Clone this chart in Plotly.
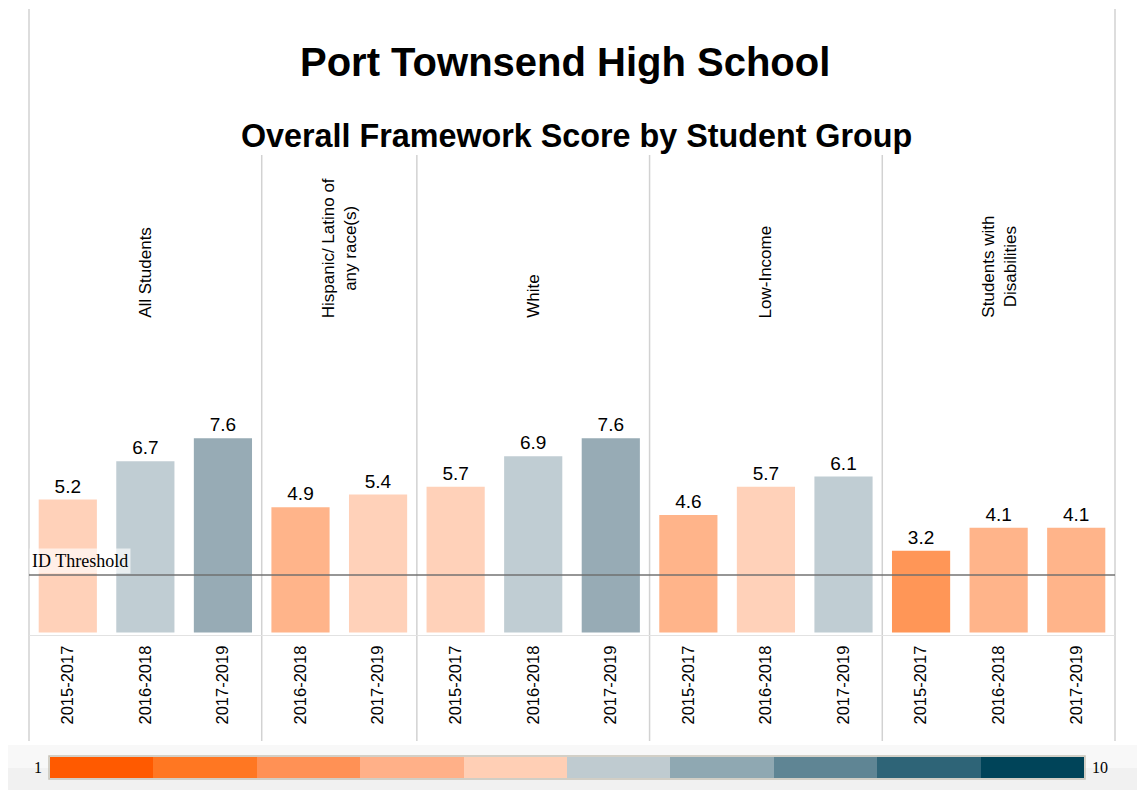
import plotly.graph_objects as go

# page body has an 8px margin: figure occupies viewport pixels 8..1145 / 8..790
OFF = 8
W, H = 1145 - OFF, 790 - OFF

# ---------------- data ----------------
groups = ["All Students", "Hispanic/ Latino of<br>any race(s)", "White",
          "Low-Income", "Students with<br>Disabilities"]
periods_all = ["2015-2017", "2016-2018", "2017-2019"]
periods_hisp = ["2016-2018", "2017-2019"]
group_periods = [periods_all, periods_hisp, periods_all, periods_all, periods_all]
scores_all = [5.2, 6.7, 7.6]
scores_hisp = [4.9, 5.4]
scores_white = [5.7, 6.9, 7.6]
scores_low = [4.6, 5.7, 6.1]
scores_swd = [3.2, 4.1, 4.1]
group_scores = [scores_all, scores_hisp, scores_white, scores_low, scores_swd]
threshold = 2.25
threshold_label = "ID Threshold"
scale_levels = list(range(1, 11))
scale_colors = ["#ff5a00", "#ff7722", "#ff9155", "#ffb088", "#ffcfb5",
                "#bfcbd0", "#8fa8b2", "#5f8594", "#2e6477", "#004459"]
bar_colors_by_level = ["#ff6a15", "#ff8035", "#ff9657", "#ffb48a", "#ffd1b9",
                       "#c0cdd3", "#97abb5", "#6b8e9c", "#3f7083", "#1a5466"]

# ---------------- build ----------------
xs, ys, labels, colors = [], [], [], []
group_centers, boundaries = [], [0]
pos = 0
for per, sc in zip(group_periods, group_scores):
    start = pos
    for p, v in zip(per, sc):
        xs.append(pos)
        ys.append(v)
        labels.append(p)
        lvl = min(max(int(v), 1), 10)
        colors.append(bar_colors_by_level[lvl - 1])
        pos += 1
    group_centers.append((start + pos - 1) / 2)
    boundaries.append(pos)
n = pos

SANS = "Liberation Sans, Arial, sans-serif"
SERIF = "Liberation Serif, Times New Roman, serif"


def px(x):
    return max(0.0, (x - OFF) / W)


def py(y):
    return min(1.0, (790 - y) / H)


fig = go.Figure()
fig.add_trace(go.Bar(
    x=xs, y=ys, width=0.75, marker=dict(color=colors, line=dict(width=0)),
    text=[f"{v:.1f}" for v in ys], textposition="outside",
    textfont=dict(family=SANS, size=19, color="#000000"),
    cliponaxis=False, hoverinfo="skip", xaxis="x", yaxis="y"))

dcs = []
for i, c in enumerate(scale_colors):
    dcs.append([i / 10, c])
    dcs.append([(i + 1) / 10, c])
fig.add_trace(go.Heatmap(
    x=scale_levels, y=[0], z=[scale_levels], colorscale=dcs,
    zmin=0.5, zmax=10.5, showscale=False, hoverinfo="skip",
    xaxis="x2", yaxis="y2"))

x0p, x1p = px(29), px(1115)

fig.update_layout(
    width=W, height=H, margin=dict(l=0, r=0, t=0, b=0),
    paper_bgcolor="white", plot_bgcolor="rgba(0,0,0,0)", showlegend=False,
    xaxis=dict(domain=[x0p, x1p], range=[-0.5, n - 0.5], tickmode="array",
               tickvals=xs, ticktext=labels, tickangle=-90,
               tickfont=dict(family=SANS, size=16.5, color="#000000"),
               showgrid=False, zeroline=False, showline=True,
               linecolor="#e2e2e2", linewidth=1, ticks="",
               ticklabelstandoff=3, automargin=False, anchor="y"),
    yaxis=dict(domain=[py(635), py(155)], range=[-0.1, 18.69], visible=False,
               anchor="x"),
    xaxis2=dict(domain=[px(50), px(1084)], range=[0.5, 10.5], visible=False,
                anchor="y2"),
    yaxis2=dict(domain=[py(778), py(757)], range=[-0.5, 0.5], visible=False,
                anchor="x2"),
)

shapes = []
# bottom gray band
shapes.append(dict(type="rect", xref="paper", yref="paper", x0=0, x1=1,
                   y0=py(768), y1=py(745), fillcolor="#f8f8f8",
                   line=dict(width=0), layer="below"))
shapes.append(dict(type="rect", xref="paper", yref="paper", x0=0, x1=1,
                   y0=0, y1=py(768), fillcolor="#f1f1f1",
                   line=dict(width=0), layer="below"))
# separators
for k, b in enumerate(boundaries):
    xp = x0p + (x1p - x0p) * b / n
    top = py(9) if k in (0, len(boundaries) - 1) else py(155)
    shapes.append(dict(type="line", xref="paper", yref="paper", x0=xp, x1=xp,
                       y0=py(741), y1=top, line=dict(color="#d2d2d2", width=1.5),
                       layer="below"))
# threshold line
shapes.append(dict(type="line", xref="paper", yref="y", x0=x0p, x1=x1p,
                   y0=threshold, y1=threshold,
                   line=dict(color="rgba(110,110,110,0.72)", width=2),
                   layer="above"))
# colour scale border
shapes.append(dict(type="rect", xref="paper", yref="paper", x0=px(49), x1=px(1085),
                   y0=py(779), y1=py(756), line=dict(color="#c6c2b6", width=1.5),
                   fillcolor="rgba(0,0,0,0)", layer="above"))
fig.update_layout(shapes=shapes)

ann = []
ann.append(dict(text="<b>Port Townsend High School</b>", xref="paper", yref="paper",
                x=px(565), y=py(62), xanchor="center", yanchor="middle",
                showarrow=False, font=dict(family=SANS, size=40, color="#000000")))
ann.append(dict(text="<b>Overall Framework Score by Student Group</b>", xref="paper",
                yref="paper", x=px(576), y=py(136), xanchor="center",
                yanchor="middle", showarrow=False,
                font=dict(family=SANS, size=32.3, color="#000000")))
for g, c in zip(groups, group_centers):
    ann.append(dict(text=g, xref="x", yref="paper", x=c, y=py(320),
                    xanchor="center", yanchor="bottom", textangle=-90,
                    showarrow=False,
                    font=dict(family=SANS, size=17, color="#000000")))
ann.append(dict(text=threshold_label, xref="paper", yref="y", x=x0p, y=threshold,
                xanchor="left", yanchor="bottom", yshift=1, showarrow=False,
                bgcolor="rgba(255,255,255,0.65)", borderpad=2,
                font=dict(family=SERIF, size=18, color="#000000")))
ann.append(dict(text=str(scale_levels[0]), xref="paper", yref="paper", x=px(38),
                y=py(767), xanchor="center", yanchor="middle", showarrow=False,
                font=dict(family=SERIF, size=16, color="#000000")))
ann.append(dict(text=str(scale_levels[-1]), xref="paper", yref="paper", x=px(1100),
                y=py(767), xanchor="center", yanchor="middle", showarrow=False,
                font=dict(family=SERIF, size=16, color="#000000")))
fig.update_layout(annotations=ann)

fig.write_html("out.html")
